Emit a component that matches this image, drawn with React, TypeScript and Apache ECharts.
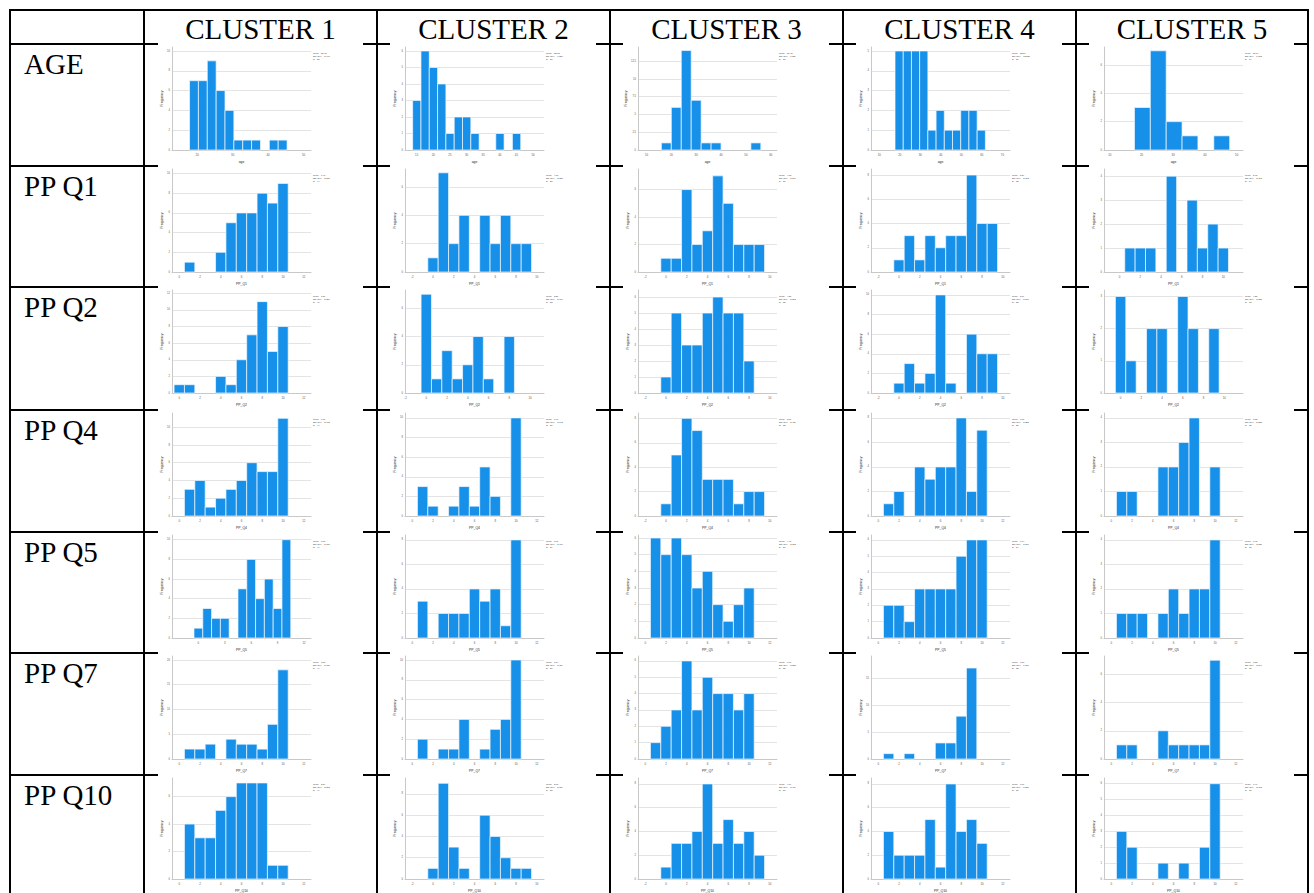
import React, { useEffect, useRef } from "react";
import * as echarts from "echarts";

const clusterNames = ["CLUSTER 1", "CLUSTER 2", "CLUSTER 3", "CLUSTER 4", "CLUSTER 5"];
const rowNames = ["AGE", "PP Q1", "PP Q2", "PP Q4", "PP Q5", "PP Q7", "PP Q10"];
const xAxisNames = ["age", "PP_Q1", "PP_Q2", "PP_Q4", "PP_Q5", "PP_Q7", "PP_Q10"];

// common tick label sets
const X0 = [0, 2, 4, 6, 8, 10, 12];
const XM2 = [-2, 0, 2, 4, 6, 8, 10];
const X3 = [0, 3, 6, 9, 12];
const Y1_3 = [0, 1, 2, 3];
const Y1_4 = [0, 1, 2, 3, 4];
const Y1_5 = [0, 1, 2, 3, 4, 5];
const Y1_6 = [0, 1, 2, 3, 4, 5, 6];
const Y2_6 = [0, 2, 4, 6];
const Y2_8 = [0, 2, 4, 6, 8];
const Y2_10 = [0, 2, 4, 6, 8, 10];
const Y2_12 = [0, 2, 4, 6, 8, 10, 12];
const Y25 = [0, 2.5, 5, 7.5, 10, 12.5];
const Y5_15 = [0, 5, 10, 15];
const Y5_20 = [0, 5, 10, 15, 20];

// ---------- AGE ----------
const ageBinStart = [17.85, 13.8, 16, 17.7, 17.8];
const ageBinWidth = [2.5, 2.5, 4, 4, 5];
const ageCounts = [
  [7, 7, 9, 6, 4, 1, 1, 1, 0, 1, 1],
  [3, 6, 5, 4, 1, 2, 2, 1, 0, 0, 1, 0, 1],
  [1, 6, 14, 7, 1, 1, 0, 0, 0, 1],
  [5, 5, 5, 5, 1, 2, 1, 1, 2, 2, 1],
  [3, 7, 2, 1, 0, 1],
];
const ageXTicks = [
  [20, 30, 40, 50],
  [15, 20, 25, 30, 35, 40, 45, 50],
  [10, 20, 30, 40, 50, 60],
  [10, 20, 30, 40, 50, 60, 70],
  [10, 20, 30, 40, 50],
];
const ageXRange = [[12.9, 52.1], [11.5, 53.3], [6.6, 62.5], [6, 73.7], [8.2, 52]];
const ageYTicks = [Y2_10, Y1_6, Y25, Y1_5, Y2_6];
const ageYMax = [10.4, 6.24, 14.5, 5.2, 7.27];

// ---------- PP Q1 ----------
const q1First = [1, 0, 0, 0, 1];
const q1Counts = [
  [1, 0, 0, 2, 5, 6, 6, 8, 7, 9],
  [1, 7, 2, 4, 0, 4, 2, 4, 2, 2],
  [1, 1, 6, 2, 3, 7, 5, 2, 2, 2],
  [1, 3, 1, 3, 2, 3, 3, 8, 4, 4],
  [1, 1, 1, 0, 4, 0, 3, 1, 2, 1],
];
const q1XTicks = [X0, XM2, XM2, XM2, X0];
const q1XRange = [null, null, null, null, [-1.5, 11.9]];
const q1YTicks = [Y2_10, Y2_6, Y2_6, Y2_8, Y1_4];
const q1YMax = [10.46, 7.27, 7.5, 8.5, 4.3];

// ---------- PP Q2 ----------
const q2First = [0, 0, 0, 0, 0];
const q2Counts = [
  [1, 1, 0, 0, 2, 1, 4, 7, 11, 5, 8],
  [7, 1, 3, 1, 2, 4, 1, 0, 4],
  [1, 5, 3, 3, 5, 6, 5, 5, 2],
  [1, 3, 1, 2, 10, 1, 0, 6, 4, 4],
  [3, 1, 0, 2, 2, 0, 3, 2, 0, 2],
];
const q2XTicks = [X0, XM2, XM2, XM2, X0];
const q2XRange = [null, [-2.05, 11.35], null, null, [-1.6, 11.8]];
const q2YTicks = [Y2_12, Y2_6, Y1_6, Y2_10, Y1_3];
const q2YMax = [12.4, 7.3, 6.44, 10.5, 3.2];

// ---------- PP Q4 ----------
const q4First = [1, 1, 0, 1, 1];
const q4Counts = [
  [3, 4, 1, 2, 3, 4, 6, 5, 5, 11],
  [3, 1, 0, 1, 3, 1, 5, 2, 0, 10],
  [1, 5, 8, 7, 3, 3, 3, 1, 2, 2],
  [1, 2, 0, 4, 3, 4, 4, 8, 2, 7],
  [1, 1, 0, 0, 2, 2, 3, 4, 0, 2],
];
const q4XTicks = [X0, X0, XM2, X0, X0];
const q4YTicks = [Y2_12, Y2_10, Y2_8, Y2_8, Y1_4];
const q4YMax = [11.6, 10.5, 8.44, 8.4, 4.2];

// ---------- PP Q5 ----------
const q5First = [0, 1, 1, 1, 1];
const q5Counts = [
  [1, 3, 2, 2, 0, 5, 8, 4, 6, 3, 10],
  [3, 0, 2, 2, 2, 4, 3, 4, 1, 8],
  [6, 5, 6, 5, 3, 4, 2, 1, 2, 3],
  [2, 2, 1, 3, 3, 3, 3, 5, 6, 6],
  [1, 1, 1, 0, 1, 2, 1, 2, 2, 4],
];
const q5XTicks = [X3, X0, X0, X0, X0];
const q5XRange = [[-3, 12.8], null, null, null, null];
const q5YTicks = [Y2_10, Y2_8, Y1_6, Y1_6, Y1_5];
const q5YMax = [10.48, 8.4, 6.18, 6.3, 4.2];

// ---------- PP Q7 ----------
const q7First = [1, 1, 1, 1, 1];
const q7Counts = [
  [2, 2, 3, 0, 4, 3, 3, 2, 7, 18],
  [2, 0, 1, 1, 4, 0, 1, 3, 4, 10],
  [1, 2, 3, 6, 3, 5, 4, 4, 3, 4],
  [1, 0, 1, 0, 0, 3, 3, 8, 17],
  [1, 1, 0, 0, 2, 1, 1, 1, 1, 7],
];
const q7XTicks = [X0, X0, X0, X0, X0];
const q7YTicks = [Y5_20, Y2_10, Y1_6, Y5_15, Y2_6];
const q7YMax = [20.8, 10.4, 6.3, 19.25, 7.3];

// ---------- PP Q10 ----------
const q10First = [1, 0, 0, 1, 1];
const q10Counts = [
  [4, 3, 3, 5, 6, 7, 7, 7, 1, 1],
  [1, 9, 3, 1, 0, 6, 4, 2, 1, 1],
  [1, 3, 3, 4, 8, 3, 5, 3, 4, 2],
  [4, 2, 2, 2, 5, 1, 8, 4, 5, 3],
  [3, 2, 0, 0, 1, 0, 1, 0, 2, 6],
];
const q10XTicks = [X0, XM2, XM2, X0, X0];
const q10YTicks = [Y2_6, Y2_8, Y2_8, Y2_8, Y1_6];
const q10YMax = [7.36, 9.5, 8.5, 8.5, 6.36];

// ---------- table geometry ----------
const COL_X = [10, 144, 377, 610, 843, 1076, 1308];
const ROW_Y = [10, 44, 166, 287, 410, 532, 653, 775];
const PAGE_H = 893;

type Spec = {
  row: number;
  col: number;
  bins: number[][];
  xMin: number;
  xMax: number;
  xTicks: number[];
  yTicks: number[];
  yMax: number;
  name: string;
};

function ppSpec(row: number, first: number[], counts: number[][], xt: number[][], yt: number[][], ym: number[], xr?: (number[] | null)[]): Spec[] {
  return counts.map((cs, col) => {
    const bins = cs.map((n, i) => [first[col] + i - 0.5, first[col] + i + 0.5, n]);
    const ticks = xt[col];
    const range = xr && xr[col] ? xr[col]! : [ticks[0] - 0.7, ticks[ticks.length - 1] + 0.7];
    return {
      row, col, bins, xMin: range[0], xMax: range[1], xTicks: ticks,
      yTicks: yt[col], yMax: ym[col], name: xAxisNames[row],
    };
  });
}

function buildSpecs(): Spec[] {
  const specs: Spec[] = [];
  ageCounts.forEach((cs, col) => {
    const bins = cs.map((n, i) => [ageBinStart[col] + i * ageBinWidth[col], ageBinStart[col] + (i + 1) * ageBinWidth[col], n]);
    specs.push({
      row: 0, col, bins, xMin: ageXRange[col][0], xMax: ageXRange[col][1], xTicks: ageXTicks[col],
      yTicks: ageYTicks[col], yMax: ageYMax[col], name: xAxisNames[0],
    });
  });
  specs.push(...ppSpec(1, q1First, q1Counts, q1XTicks, q1YTicks, q1YMax, q1XRange));
  specs.push(...ppSpec(2, q2First, q2Counts, q2XTicks, q2YTicks, q2YMax, q2XRange));
  specs.push(...ppSpec(3, q4First, q4Counts, q4XTicks, q4YTicks, q4YMax));
  specs.push(...ppSpec(4, q5First, q5Counts, q5XTicks, q5YTicks, q5YMax, q5XRange));
  specs.push(...ppSpec(5, q7First, q7Counts, q7XTicks, q7YTicks, q7YMax));
  specs.push(...ppSpec(6, q10First, q10Counts, q10XTicks, q10YTicks, q10YMax));
  return specs;
}

function statsText(bins: number[][]): string {
  let n = 0, s = 0;
  bins.forEach((b) => { n += b[2]; s += ((b[0] + b[1]) / 2) * b[2]; });
  const mean = s / n;
  let v = 0;
  bins.forEach((b) => { const m = (b[0] + b[1]) / 2; v += b[2] * (m - mean) * (m - mean); });
  const sd = Math.sqrt(v / Math.max(1, n - 1));
  return `Mean = ${mean.toFixed(2)}\nStd. Dev. = ${sd.toFixed(3)}\nN = ${n}`;
}

function buildOption() {
  const specs = buildSpecs();
  const grid: any[] = [];
  const xAxis: any[] = [];
  const yAxis: any[] = [];
  const series: any[] = [];
  const graphic: any[] = [];
  const tiny = "Liberation Sans, Arial, sans-serif";

  specs.forEach((s, idx) => {
    const L = COL_X[s.col + 1];
    const T = ROW_Y[s.row + 1];
    grid.push({ left: L + 28, top: T + 3, width: 139, height: 103 });
    xAxis.push({
      type: "value", gridIndex: idx, min: s.xMin, max: s.xMax,
      name: s.name, nameLocation: "middle", nameGap: 10,
      nameTextStyle: { fontSize: 3.4, color: "#222", fontFamily: tiny },
      axisLine: { show: true, onZero: false, lineStyle: { color: "#c8c8c8", width: 1 } },
      axisTick: { show: false, customValues: s.xTicks },
      axisLabel: { customValues: s.xTicks, fontSize: 2.8, color: "#555", margin: 3, fontFamily: tiny },
      splitLine: { show: false },
    });
    yAxis.push({
      type: "value", gridIndex: idx, min: 0, max: s.yMax,
      name: "Frequency", nameLocation: "middle", nameGap: 9, nameRotate: 90,
      nameTextStyle: { fontSize: 3.4, color: "#222", fontFamily: tiny },
      axisLine: { show: true, onZero: false, lineStyle: { color: "#c8c8c8", width: 1 } },
      axisTick: { show: false, customValues: s.yTicks },
      axisLabel: { customValues: s.yTicks, fontSize: 2.6, color: "#555", margin: 2, fontFamily: tiny },
      splitLine: { show: true, lineStyle: { color: "#e4e4e4", width: 1 } },
    });
    series.push({
      type: "custom", xAxisIndex: idx, yAxisIndex: idx,
      data: s.bins.filter((b) => b[2] > 0),
      encode: { x: [0, 1], y: 2 },
      renderItem: (_p: any, api: any) => {
        const a = api.coord([api.value(0), api.value(2)]);
        const b = api.coord([api.value(1), 0]);
        return {
          type: "rect",
          shape: { x: a[0], y: a[1], width: b[0] - a[0], height: b[1] - a[1] },
          style: { fill: "#1690e8", stroke: "#f2f8fd", lineWidth: 0.7 },
        };
      },
    });
    graphic.push({
      type: "text", x: L + 169, y: T + 8,
      style: { text: statsText(s.bins), fontSize: 2.2, lineHeight: 2.7, fill: "#333", fontFamily: tiny },
    });
  });

  // table lines
  const line = (x1: number, y1: number, x2: number, y2: number) => ({
    type: "line", shape: { x1, y1, x2, y2 }, style: { stroke: "#000", lineWidth: 2 }, z: 10,
  });
  graphic.push(line(COL_X[0] - 1, ROW_Y[0], COL_X[6] + 1, ROW_Y[0]));
  COL_X.forEach((x) => graphic.push(line(x, ROW_Y[0], x, PAGE_H)));
  for (let r = 1; r < ROW_Y.length; r++) {
    const y = ROW_Y[r];
    graphic.push(line(COL_X[0] - 1, y, COL_X[1] + 14, y));
    for (let c = 1; c < 5; c++) graphic.push(line(COL_X[c + 1] - 14, y, COL_X[c + 1] + 13, y));
    graphic.push(line(COL_X[6] - 14, y, COL_X[6] + 1, y));
  }
  const serif = "Liberation Serif, Times New Roman, serif";
  clusterNames.forEach((t, c) => {
    graphic.push({
      type: "text", x: (COL_X[c + 1] + COL_X[c + 2]) / 2, y: 28.5,
      style: { text: t, fontSize: 29, fontFamily: serif, fill: "#000", textAlign: "center", textVerticalAlign: "middle" },
    });
  });
  rowNames.forEach((t, r) => {
    graphic.push({
      type: "text", x: 24, y: ROW_Y[r + 1] + 19.5,
      style: { text: t, fontSize: 29, fontFamily: serif, fill: "#000", textAlign: "left", textVerticalAlign: "middle" },
    });
  });

  return { animation: false, backgroundColor: "#fff", grid, xAxis, yAxis, series, graphic };
}

export default function App() {
  const ref = useRef<HTMLDivElement>(null);
  useEffect(() => {
    document.body.style.margin = "0";
    const chart = echarts.init(ref.current!, undefined, { renderer: "svg" });
    chart.setOption(buildOption() as any);
    return () => chart.dispose();
  }, []);
  return <div ref={ref} style={{ width: 1314, height: 893 }} />;
}
